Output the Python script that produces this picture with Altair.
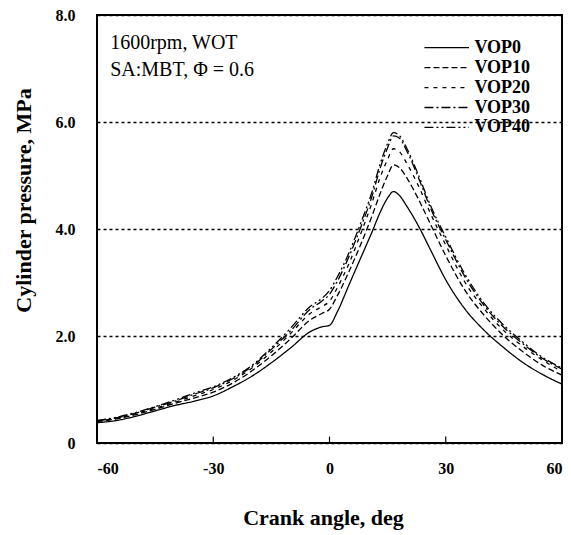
import altair as alt
import pandas as pd

angles = [-60, -55, -50, -45, -40, -35, -30, -25, -20, -15, -10, -5, -2, 0, 2, 5, 8, 11, 13, 15, 16.5, 18, 20, 23, 26, 30, 35, 40, 45, 50, 55, 60]

vop0 = [0.38, 0.42, 0.50, 0.60, 0.70, 0.78, 0.88, 1.05, 1.25, 1.50, 1.78, 2.08, 2.17, 2.20, 2.45, 2.95, 3.45, 3.95, 4.30, 4.58, 4.70, 4.63, 4.42, 4.05, 3.62, 3.05, 2.50, 2.10, 1.78, 1.50, 1.28, 1.10]
vop10 = [0.40, 0.45, 0.53, 0.63, 0.74, 0.84, 0.95, 1.12, 1.35, 1.63, 1.95, 2.30, 2.42, 2.50, 2.75, 3.20, 3.70, 4.25, 4.65, 5.00, 5.20, 5.15, 4.95, 4.55, 4.10, 3.50, 2.85, 2.38, 2.00, 1.70, 1.45, 1.27]
vop20 = [0.41, 0.46, 0.55, 0.65, 0.76, 0.88, 1.00, 1.17, 1.40, 1.70, 2.05, 2.42, 2.55, 2.65, 2.90, 3.35, 3.90, 4.50, 4.95, 5.30, 5.50, 5.45, 5.22, 4.80, 4.30, 3.70, 3.00, 2.50, 2.10, 1.80, 1.55, 1.33]
vop30 = [0.42, 0.47, 0.56, 0.67, 0.78, 0.91, 1.03, 1.20, 1.43, 1.75, 2.10, 2.50, 2.65, 2.78, 3.02, 3.48, 4.02, 4.62, 5.12, 5.52, 5.74, 5.70, 5.45, 4.95, 4.40, 3.80, 3.10, 2.56, 2.16, 1.85, 1.58, 1.38]
vop40 = [0.42, 0.48, 0.57, 0.68, 0.80, 0.93, 1.05, 1.22, 1.45, 1.78, 2.15, 2.55, 2.70, 2.85, 3.10, 3.55, 4.10, 4.70, 5.20, 5.60, 5.80, 5.75, 5.50, 5.00, 4.45, 3.85, 3.15, 2.60, 2.20, 1.88, 1.60, 1.40]

series = ["VOP0", "VOP10", "VOP20", "VOP30", "VOP40"]
dashes = [[1, 0], [6, 3], [4, 5], [9, 3, 2, 3], [9, 3, 2, 3, 2, 3]]
widths = [1.3, 1.3, 2.2, 1.3, 1.3]

x_ticks = [-60, -30, 0, 30, 60]
y_ticks = [0, 2, 4, 6, 8]
annotations = ["1600rpm, WOT", "SA:MBT, \u03a6 = 0.6"]

FONT = "Liberation Serif"

rows = []
for name, vals in zip(series, [vop0, vop10, vop20, vop30, vop40]):
    for a, v in zip(angles, vals):
        rows.append({"angle": a, "pressure": v, "series": name})
df = pd.DataFrame(rows)

xs = alt.Scale(domain=[-60, 60], nice=False, zero=False)
ys = alt.Scale(domain=[0, 8], nice=False)
dash_scale = alt.Scale(domain=series, range=dashes)
width_scale = alt.Scale(domain=series, range=widths)

lines = alt.Chart(df).mark_line(color="black", interpolate="monotone").encode(
    x=alt.X("angle:Q", scale=xs,
            axis=alt.Axis(values=x_ticks, title="Crank angle, deg", grid=False,
                          labelExpr="'' + datum.value",
                          ticks=False, labelPadding=17, titleX=226, titleY=74,
                          titleBaseline="middle", titleAlign="center")),
    y=alt.Y("pressure:Q", scale=ys,
            axis=alt.Axis(values=y_ticks, title="Cylinder pressure, MPa",
                          labelExpr="datum.value == 0 ? '0' : format(datum.value, '.1f')",
                          grid=True, gridDash=[3, 3], gridColor="black", gridWidth=1.6,
                          gridOpacity=1, ticks=False, labelPadding=22,
                          titleX=-74, titleY=185, titleAngle=-90,
                          titleBaseline="middle", titleAlign="center")),
    strokeDash=alt.StrokeDash("series:N", scale=dash_scale, legend=None),
    strokeWidth=alt.StrokeWidth("series:N", scale=width_scale, legend=None),
    detail="series:N",
)

# inside ticks on bottom axis
tick_df = pd.DataFrame({"angle": [-30, 0, 30], "y0": [0, 0, 0], "y1": [0.12, 0.12, 0.12]})
ticks = alt.Chart(tick_df).mark_rule(color="black", strokeWidth=1.2).encode(
    x=alt.X("angle:Q", scale=xs), y=alt.Y("y0:Q", scale=ys), y2="y1:Q"
)

# manual legend
leg_df = pd.DataFrame({
    "series": series,
    "x1": [24.5] * 5,
    "x2": [36.0] * 5,
    "xt": [37.4] * 5,
    "ly": [7.39 - 0.373 * i for i in range(5)],
})
leg_lines = alt.Chart(leg_df).mark_rule(color="black").encode(
    x=alt.X("x1:Q", scale=xs), x2="x2:Q", y=alt.Y("ly:Q", scale=ys),
    strokeDash=alt.StrokeDash("series:N", scale=dash_scale, legend=None),
    strokeWidth=alt.StrokeWidth("series:N", scale=width_scale, legend=None),
)
leg_text = alt.Chart(leg_df).mark_text(
    align="left", baseline="middle", font=FONT, fontSize=18, fontWeight="bold", color="black"
).encode(x=alt.X("xt:Q", scale=xs), y=alt.Y("ly:Q", scale=ys), text="series:N")

ann_df = pd.DataFrame({"text": annotations, "ax": [-56.6, -56.6], "ay": [7.48, 6.98]})
ann = alt.Chart(ann_df).mark_text(
    align="left", baseline="middle", font=FONT, fontSize=20, color="black"
).encode(x=alt.X("ax:Q", scale=xs), y=alt.Y("ay:Q", scale=ys), text="text:N")

chart = alt.layer(lines, ticks, leg_lines, leg_text, ann).properties(
    width=465, height=428,
    autosize=alt.AutoSizeParams(type="none"),
    padding={"left": 89, "top": 7, "right": 1, "bottom": 92},
    background="white",
).configure_view(stroke="black", strokeWidth=2).configure_axis(
    labelFont=FONT, labelFontSize=16, labelFontWeight="bold", labelColor="black",
    titleFont=FONT, titleFontSize=22, titleFontWeight="bold", titleColor="black",
    domain=False,
)

chart.save("out.html", embed_options={"renderer": "svg", "actions": False})
